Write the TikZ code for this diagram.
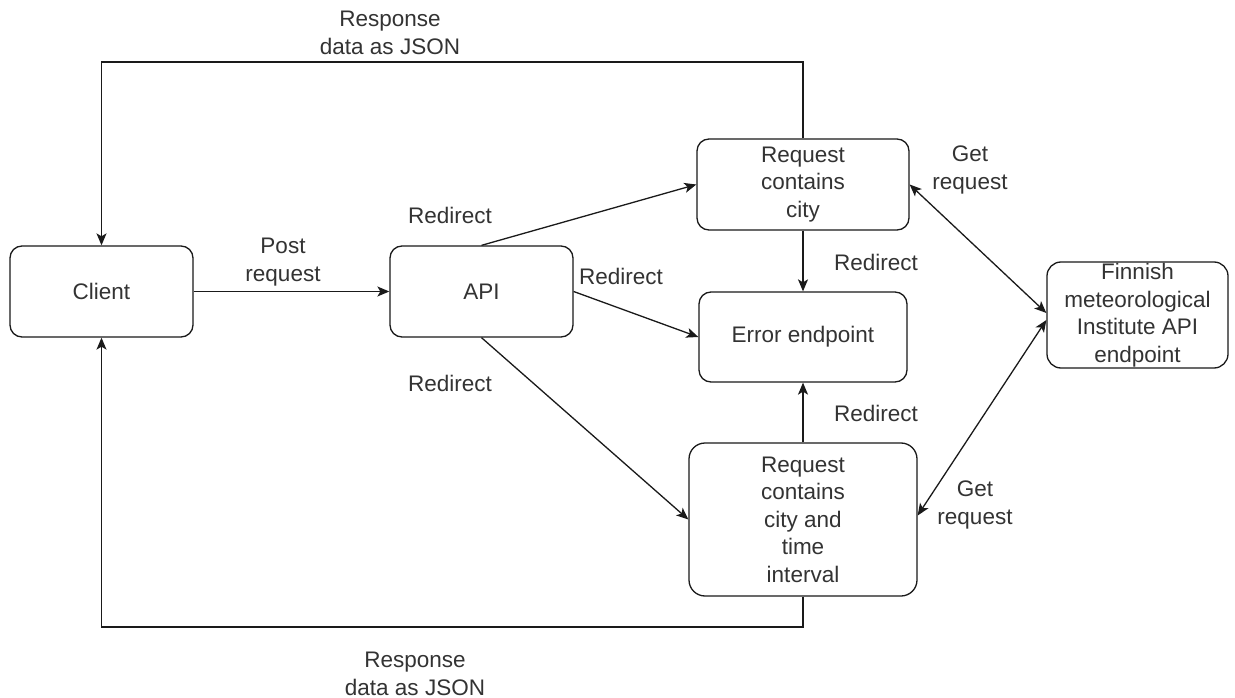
\documentclass[tikz,border=0pt]{standalone}
\usepackage{fontspec}
\setmainfont{Liberation Sans}
\usetikzlibrary{arrows.meta}
\definecolor{ink}{HTML}{1A1A1A}
\definecolor{txt}{HTML}{333333}
\begin{document}
\begin{tikzpicture}[x=1pt,y=-1pt,
  font=\fontsize{22.5}{27.5}\selectfont, text=txt,
  box/.style={draw=ink, line width=1.3pt, rounded corners=12pt, align=center, inner sep=0pt},
  lbl/.style={align=center, inner sep=0pt},
  tip/.style={},
  arr/.style={draw=ink, line width=1.3pt, -{Stealth[length=12pt,width=10pt,inset=3pt]}},
  darr/.style={draw=ink, line width=1.3pt, {Stealth[length=12pt,width=10pt,inset=3pt]}-{Stealth[length=12pt,width=10pt,inset=3pt]}}
]
\path[fill=white, use as bounding box] (0,0) rectangle (1235,698);

\node[box, minimum width=183pt, minimum height=91pt] (client) at (101.5,291.5) {Client};
\node[box, minimum width=183pt, minimum height=91pt] (api) at (481.5,291.5) {API};
\node[box, minimum width=212pt, minimum height=91pt] (city) at (803,184.5) {Request\\contains\\city};
\node[box, minimum width=208pt, minimum height=90pt] (err) at (803,337) {Error endpoint};
\node[box, minimum width=228pt, minimum height=153pt, rounded corners=16pt] (cti) at (803,519.5) {Request\\contains\\city and\\time\\interval};
\node[box, minimum width=181pt, minimum height=106pt, rounded corners=14pt] (fmi) at (1137.5,315) {Finnish\\meteorological\\Institute API\\endpoint};

\coordinate (topy) at (0,62);
\coordinate (boty) at (0,627);

\draw[arr] (client) -- (api);
\draw[arr] (api.north) -- (city.west);
\draw[arr] (api.east) -- (err.west);
\draw[arr] (api.south) -- (cti.west);
\draw[arr] (city.south) -- (err.north);
\draw[arr] (cti.north) -- (err.south);
\draw[darr] (city.east) -- ([yshift=2pt]fmi.west);
\draw[darr] ([yshift=4pt]cti.east) -- ([yshift=-5pt]fmi.west);
\draw[arr] (city.north) -- (city.north |- topy) -| (client.north);
\draw[arr] (cti.south) -- (cti.south |- boty) -| (client.south);

\node[lbl] (l1) at (390,33) {Response\\data as JSON};
\node[lbl] (l2) at (415,674) {Response\\data as JSON};
\node[lbl] (l3) at (283,262) {Post\\request};
\node[lbl] (l4) at (450,215) {Redirect};
\node[lbl] (l5) at (621,276) {Redirect};
\node[lbl] (l6) at (450,383) {Redirect};
\node[lbl] (l7) at (876,262) {Redirect};
\node[lbl] (l8) at (876,413) {Redirect};
\node[lbl] (l9) at (970,170) {Get\\request};
\node[lbl] (l10) at (975,505) {Get\\request};
\end{tikzpicture}
\end{document}
